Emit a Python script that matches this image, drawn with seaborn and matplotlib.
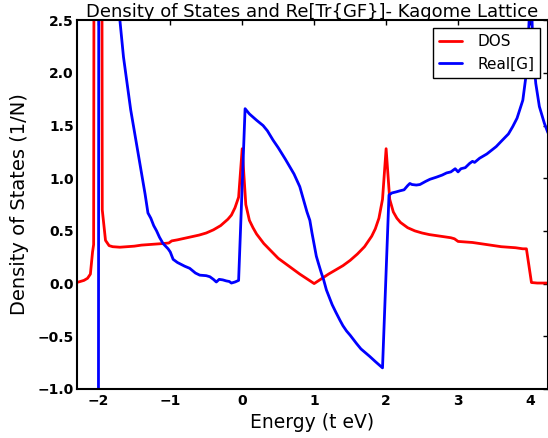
import numpy as np
import matplotlib
matplotlib.use("Agg")
import matplotlib.pyplot as plt
import seaborn as sns

# ----- DATA -----
energy_dos = [-2.30, -2.20, -2.15, -2.11, -2.08, -2.065, -2.055, -1.955, -1.945, -1.90,
              -1.85, -1.80, -1.70, -1.60, -1.50, -1.40, -1.30, -1.20, -1.10, -1.02,
              -0.98, -0.90, -0.80, -0.70, -0.60, -0.50, -0.40, -0.30, -0.20, -0.15,
              -0.10, -0.05, 0.00, 0.05, 0.10, 0.15, 0.20, 0.30, 0.40, 0.50,
              0.60, 0.70, 0.80, 0.90, 1.00, 1.10, 1.20, 1.30, 1.40, 1.50,
              1.60, 1.70, 1.80, 1.85, 1.90, 1.95, 2.00, 2.05, 2.10, 2.15,
              2.20, 2.30, 2.40, 2.50, 2.60, 2.70, 2.80, 2.90, 2.95, 3.00,
              3.10, 3.20, 3.30, 3.40, 3.50, 3.60, 3.70, 3.80, 3.90, 3.95,
              4.02, 4.10, 4.25]
dos = [0.01, 0.03, 0.05, 0.09, 0.30, 0.37, 6.0, 6.0, 0.70, 0.41,
       0.36, 0.35, 0.345, 0.35, 0.355, 0.365, 0.37, 0.375, 0.38, 0.385,
       0.405, 0.415, 0.43, 0.445, 0.46, 0.48, 0.51, 0.55, 0.61, 0.65,
       0.72, 0.82, 1.28, 0.75, 0.60, 0.53, 0.47, 0.38, 0.31, 0.24,
       0.19, 0.14, 0.09, 0.045, 0.00, 0.045, 0.09, 0.13, 0.17, 0.22,
       0.28, 0.35, 0.45, 0.52, 0.62, 0.80, 1.28, 0.80, 0.68, 0.62,
       0.58, 0.53, 0.50, 0.48, 0.465, 0.455, 0.445, 0.435, 0.425, 0.40,
       0.395, 0.39, 0.38, 0.37, 0.36, 0.35, 0.345, 0.34, 0.33, 0.33,
       0.01, 0.005, 0.005]

energy_g = [-2.30, -2.10, -2.00, -1.99, -1.80, -1.70, -1.65, -1.60, -1.55, -1.50,
            -1.45, -1.40, -1.35, -1.31, -1.27, -1.23, -1.19, -1.15, -1.10, -1.03,
            -1.00, -0.96, -0.90, -0.80, -0.73, -0.65, -0.59, -0.50, -0.45, -0.40,
            -0.36, -0.32, -0.27, -0.22, -0.18, -0.15, -0.10, -0.05, 0.04, 0.10,
            0.20, 0.29, 0.35, 0.43, 0.50, 0.60, 0.66, 0.72, 0.80, 0.85,
            0.90, 0.94, 0.97, 1.00, 1.03, 1.06, 1.10, 1.13, 1.17, 1.25,
            1.30, 1.36, 1.40, 1.45, 1.50, 1.59, 1.65, 1.77, 1.85, 1.95,
            2.04, 2.08, 2.14, 2.19, 2.25, 2.30, 2.33, 2.36, 2.42, 2.47,
            2.55, 2.61, 2.70, 2.78, 2.84, 2.90, 2.96, 3.00, 3.04, 3.10,
            3.16, 3.20, 3.23, 3.30, 3.40, 3.53, 3.60, 3.70, 3.76, 3.82,
            3.90, 3.94, 3.97, 4.00, 4.02, 4.04, 4.08, 4.13, 4.20, 4.25]
real_g = [-1.6, -2.0, -3.0, 6.0, 3.5, 2.50, 2.15, 1.90, 1.65, 1.45,
          1.25, 1.05, 0.85, 0.67, 0.62, 0.55, 0.50, 0.44, 0.38, 0.33,
          0.30, 0.23, 0.20, 0.165, 0.145, 0.10, 0.08, 0.075, 0.065, 0.04,
          0.015, 0.04, 0.035, 0.025, 0.02, 0.005, 0.015, 0.03, 1.66, 1.61,
          1.55, 1.50, 1.45, 1.36, 1.29, 1.18, 1.11, 1.04, 0.92, 0.80,
          0.68, 0.60, 0.48, 0.37, 0.26, 0.19, 0.10, 0.04, -0.06, -0.20,
          -0.27, -0.35, -0.40, -0.45, -0.49, -0.57, -0.62, -0.69, -0.74, -0.80,
          0.84, 0.86, 0.87, 0.88, 0.89, 0.93, 0.95, 0.94, 0.935, 0.94,
          0.97, 0.99, 1.01, 1.03, 1.05, 1.06, 1.09, 1.06, 1.09, 1.10,
          1.14, 1.16, 1.15, 1.19, 1.23, 1.30, 1.35, 1.42, 1.49, 1.57,
          1.74, 1.95, 2.22, 2.7, 2.7, 2.22, 1.90, 1.68, 1.52, 1.43]

x_ticks = [-2, -1, 0, 1, 2, 3, 4]
y_ticks = [-1.0, -0.5, 0.0, 0.5, 1.0, 1.5, 2.0, 2.5]

# ----- PLOT -----
sns.set_style("white")
plt.rcParams['font.family'] = ['DejaVu Sans']
plt.rcParams['text.color'] = 'black'
plt.rcParams['axes.labelcolor'] = 'black'

fig = plt.figure(figsize=(5.48, 4.38), dpi=100)
ax = fig.add_axes([0.14, 0.112, 0.86, 0.842])

sns.lineplot(x=energy_dos, y=dos, color='red', lw=2, label='DOS', ax=ax)
sns.lineplot(x=energy_g, y=real_g, color='blue', lw=2, label='Real[G]', ax=ax)

ax.set_xlim(-2.3, 4.25)
ax.set_ylim(-1.0, 2.5)
ax.set_xticks(x_ticks)
ax.set_yticks(y_ticks)
ax.set_xticklabels([f"\u2212{abs(t)}" if t < 0 else str(t) for t in x_ticks],
                   fontweight='bold', fontsize=10)
ax.set_yticklabels([f"\u2212{abs(t):.1f}" if t < 0 else f"{t:.1f}" for t in y_ticks],
                   fontweight='bold', fontsize=10)
ax.tick_params(direction='in', length=3.5, width=1, top=True, right=True,
               colors='black')
ax.tick_params(axis='y', pad=2)
ax.tick_params(axis='x', pad=4)
for sp in ax.spines.values():
    sp.set_linewidth(1.5)
    sp.set_color('black')

ax.set_xlabel("Energy (t eV)", fontsize=13.5, labelpad=3)
ax.set_ylabel("Density of States (1/N)", fontsize=14, labelpad=6)
ax.set_title("Density of States and Re[Tr{GF}]- Kagome Lattice", fontsize=13, pad=2)

leg = ax.legend(loc='upper right', fontsize=11, fancybox=False, framealpha=1,
                edgecolor='black', handlelength=1.5, handletextpad=1.0,
                borderaxespad=0.5)
leg.get_frame().set_linewidth(1.0)

fig.savefig("out.png", dpi=100)
